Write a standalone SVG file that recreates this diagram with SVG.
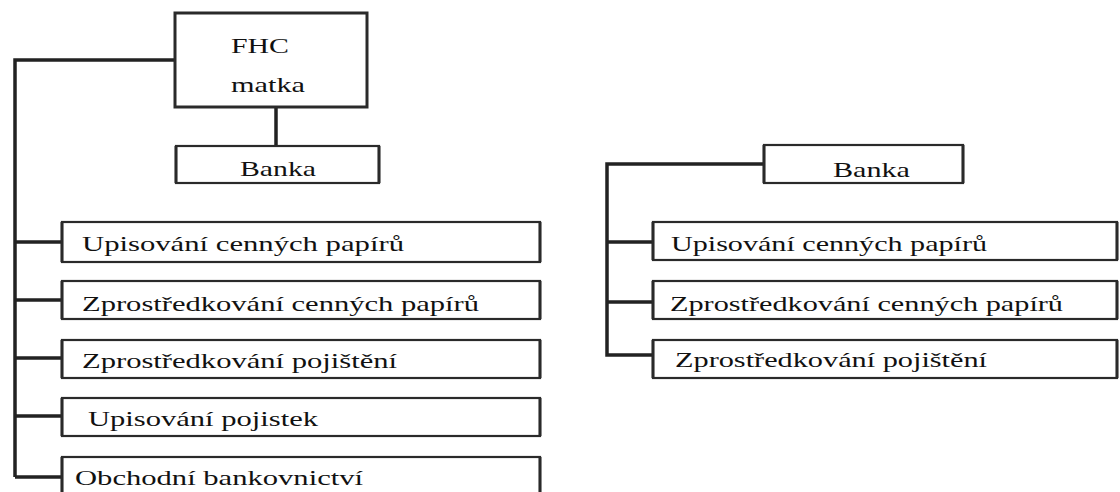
<svg xmlns="http://www.w3.org/2000/svg" width="1120" height="492" viewBox="0 0 1120 492">
<style>
.box{fill:#fff;stroke:#2a2a2a;stroke-width:2.2}
.side{stroke:#2a2a2a;stroke-width:3}
.con{fill:none;stroke:#222;stroke-width:3.5;stroke-linejoin:miter}
.t{font-family:'Liberation Serif','DejaVu Serif','Times New Roman',serif;font-size:21px;fill:#111}
</style>
<rect width="1120" height="492" fill="#fff"/>
<g id="connectors">
<path class="con" d="M175 60 H15 V477"/>
<path class="con" d="M15 242 H62 M15 300 H62 M15 358 H62 M15 416 H62 M15 477 H62"/>
<path class="con" d="M276 107 V146"/>
<path class="con" d="M764 164 H607 V355 H653 M607 242 H653 M607 302 H653"/>
</g>
<g id="fhc">
<rect class="box" x="175" y="13" width="192" height="94" style="stroke-width:3"/>
<text class="t" x="231" y="53" textLength="58" lengthAdjust="spacingAndGlyphs">FHC</text>
<text class="t" x="231" y="92" textLength="74" lengthAdjust="spacingAndGlyphs">matka</text>
</g>
<g id="banka-left">
<rect class="box" x="176" y="146" width="203" height="37"/>
<path class="side" d="M176 146 V183 M379 146 V183"/>
<text class="t" x="240" y="176" textLength="76" lengthAdjust="spacingAndGlyphs">Banka</text>
</g>
<g id="l1">
<rect class="box" x="62" y="222" width="478" height="40"/>
<path class="side" d="M62 222 V262 M540 222 V262"/>
<text class="t" x="82" y="251" textLength="322" lengthAdjust="spacingAndGlyphs">Upisování cenných papírů</text>
</g>
<g id="l2">
<rect class="box" x="62" y="281" width="478" height="38"/>
<path class="side" d="M62 281 V319 M540 281 V319"/>
<text class="t" x="82" y="311" textLength="397" lengthAdjust="spacingAndGlyphs">Zprostředkování cenných papírů</text>
</g>
<g id="l3">
<rect class="box" x="62" y="340" width="478" height="38"/>
<path class="side" d="M62 340 V378 M540 340 V378"/>
<text class="t" x="82" y="368" textLength="315" lengthAdjust="spacingAndGlyphs">Zprostředkování pojištění</text>
</g>
<g id="l4">
<rect class="box" x="62" y="398" width="478" height="38"/>
<path class="side" d="M62 398 V436 M540 398 V436"/>
<text class="t" x="88" y="426" textLength="230" lengthAdjust="spacingAndGlyphs">Upisování pojistek</text>
</g>
<g id="l5">
<rect class="box" x="62" y="457" width="478" height="40"/>
<path class="side" d="M62 457 V497 M540 457 V497"/>
<text class="t" x="75" y="485" textLength="288" lengthAdjust="spacingAndGlyphs">Obchodní bankovnictví</text>
</g>
<g id="banka-right">
<rect class="box" x="764" y="145" width="199" height="38"/>
<path class="side" d="M764 145 V183 M963 145 V183"/>
<text class="t" x="833" y="177" textLength="77" lengthAdjust="spacingAndGlyphs">Banka</text>
</g>
<g id="r1">
<rect class="box" x="653" y="222" width="464" height="38"/>
<path class="side" d="M653 222 V260 M1117 222 V260"/>
<text class="t" x="671" y="251" textLength="316" lengthAdjust="spacingAndGlyphs">Upisování cenných papírů</text>
</g>
<g id="r2">
<rect class="box" x="653" y="281" width="464" height="38"/>
<path class="side" d="M653 281 V319 M1117 281 V319"/>
<text class="t" x="670" y="311" textLength="393" lengthAdjust="spacingAndGlyphs">Zprostředkování cenných papírů</text>
</g>
<g id="r3">
<rect class="box" x="653" y="340" width="464" height="38"/>
<path class="side" d="M653 340 V378 M1117 340 V378"/>
<text class="t" x="675" y="367" textLength="312" lengthAdjust="spacingAndGlyphs">Zprostředkování pojištění</text>
</g>
</svg>
